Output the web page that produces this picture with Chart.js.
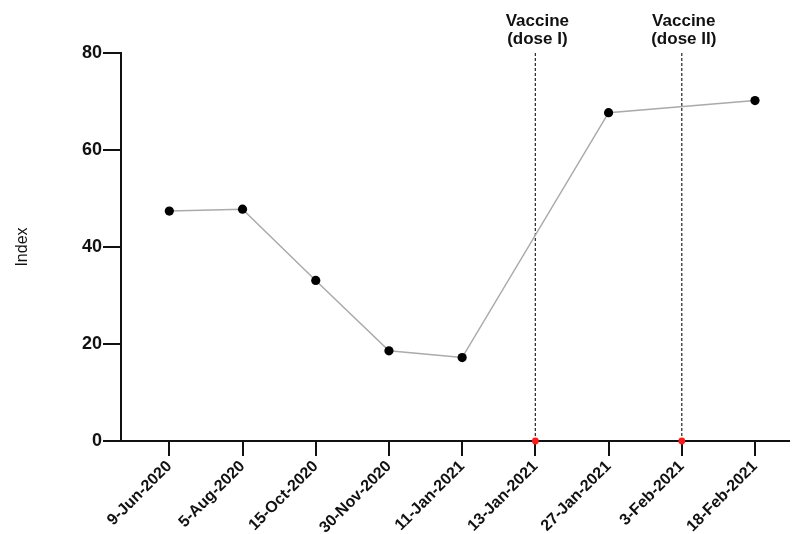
<!DOCTYPE html>
<html>
<head>
<meta charset="utf-8">
<script src="https://cdn.jsdelivr.net/npm/chart.js@4/dist/chart.umd.min.js"></script>
<style>
 body{margin:0;background:#fff;}
 #wrap{width:794px;height:534px;}
</style>
</head>
<body>
<div id="wrap"><canvas id="mychart" width="794" height="534"></canvas></div>
<script>
// values
var dates = ["9-Jun-2020","5-Aug-2020","15-Oct-2020","30-Nov-2020","11-Jan-2021","13-Jan-2021","27-Jan-2021","3-Feb-2021","18-Feb-2021"]
var indexValues = [47.4, 47.8, 33.1, 18.6, 17.2, null, 67.7, null, 70.2]
var vaccineDates = ["13-Jan-2021","3-Feb-2021"]
var vaccineText = [["Vaccine","(dose I)"],["Vaccine","(dose II)"]]
var yTicks = [0, 20, 40, 60, 80]

var font = "'Liberation Sans', Arial, Helvetica, sans-serif"

var points = []
dates.forEach(function(d,i){
	points.push({x:i, y:indexValues[i]})
})

var datasets = [
	{
		label:"Index",
		data:points,
		spanGaps:true,
		borderColor:"#aaaaaa",
		borderWidth:1.5,
		backgroundColor:"#000",
		pointBackgroundColor:"#000",
		pointBorderWidth:0,
		pointRadius:4.6,
		order:1,
		clip:false
	},
	{
		label:"dose",
		data:vaccineDates.map(function(d){ return {x:dates.indexOf(d), y:0} }),
		showLine:false,
		pointBackgroundColor:"#ff1a1a",
		pointBorderWidth:0,
		pointRadius:3.4,
		order:0,
		clip:false
	}
]

// dashed marker lines
vaccineDates.forEach(function(d){
	var i = dates.indexOf(d)
	datasets.push({
		label:"line",
		data:[{x:i,y:0},{x:i,y:yTicks[yTicks.length-1]}],
		borderColor:"#333",
		borderWidth:1.3,
		borderDash:[3,2],
		pointRadius:0,
		order:2
	})
})

var vaccineLabels = {
	id:"vaccineLabels",
	afterDraw:function(chart){
		var ctx = chart.ctx
		var xs = chart.scales.x
		var top = chart.chartArea.top
		ctx.save()
		ctx.fillStyle = "#111"
		ctx.font = "bold 17px " + font
		ctx.textAlign = "center"
		ctx.textBaseline = "middle"
		vaccineDates.forEach(function(d,k){
			var px = xs.getPixelForValue(dates.indexOf(d)) + 2
			ctx.fillText(vaccineText[k][0], px, top - 32)
			ctx.fillText(vaccineText[k][1], px, top - 14)
		})
		ctx.restore()
	}
}

var myChart = document.getElementById("mychart").getContext('2d')

var chart = new Chart(myChart,{
	type:'line',
	data:{datasets:datasets},
	plugins:[vaccineLabels],
	options:{
		responsive:false,
		animation:false,
		events:[],
		layout:{padding:{top:53, right:0, left:0, bottom:0}},
		plugins:{legend:{display:false}, tooltip:{enabled:false}},
		scales:{
			x:{
				type:'linear',
				min:-0.66,
				max:8.47,
				afterBuildTicks:function(scale){
					scale.ticks = dates.map(function(d,i){ return {value:i} })
				},
				afterFit:function(scale){ scale.height = 93 },
				border:{color:"#111", width:2},
				grid:{drawOnChartArea:false, color:"#111", lineWidth:2, tickLength:15},
				ticks:{
					color:"#111",
					font:{family:font, size:16, weight:'bold'},
					maxRotation:45,
					minRotation:45,
					padding:1,
					autoSkip:false,
					callback:function(v){ return dates[v] }
				}
			},
			y:{
				min:0,
				max:80,
				afterBuildTicks:function(scale){
					scale.ticks = yTicks.map(function(v){ return {value:v} })
				},
				afterFit:function(scale){ scale.width = 121 },
				border:{color:"#111", width:2},
				grid:{drawOnChartArea:false, color:"#111", lineWidth:2, tickLength:18},
				ticks:{
					color:"#111",
					font:{family:font, size:18, weight:'bold'},
					padding:1
				},
				title:{
					display:true,
					text:"Index",
					color:"#111",
					font:{family:font, size:16},
					padding:{top:13, bottom:0}
				}
			}
		}
	}
})
</script>
</body>
</html>
